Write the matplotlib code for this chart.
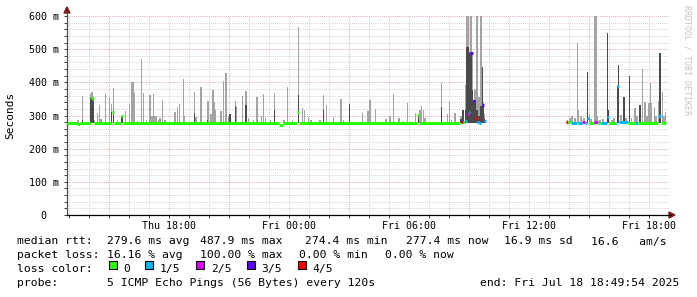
import numpy as np
import matplotlib
matplotlib.use("Agg")
import matplotlib.pyplot as plt
from matplotlib.collections import LineCollection
from matplotlib.patches import Rectangle, Polygon

# ---------------- data (time = hours since Thu 00:00, values in ms) -------------
smoke_t = [13.435, 13.65, 14.07, 14.135, 14.185, 14.235, 14.40, 14.52, 14.585, 14.80,
           15.00, 15.12, 15.20, 15.40, 15.635, 15.80, 16.00, 16.12, 16.185, 16.235,
           16.40, 16.60, 16.72, 16.85, 17.035, 17.135, 17.20, 17.285, 17.335, 17.45,
           17.535, 17.65, 17.785, 18.285, 18.40, 18.50, 18.70, 18.77,
           19.25, 19.335, 19.585, 19.91, 19.96, 20.085, 20.185, 20.25, 20.32, 20.585,
           20.72, 20.835, 20.95, 21.035, 21.31, 21.36, 21.65, 21.835, 21.95, 22.20,
           22.385, 22.60, 22.72, 22.80, 23.05, 23.25, 23.735, 23.92, 24.15, 24.45,
           24.65, 24.75, 24.95,
           25.085, 25.535, 25.70, 25.87, 26.20, 26.585, 26.70, 27.00, 27.65, 27.90,
           27.95, 28.035, 28.30, 28.835, 29.035, 29.20, 29.485, 29.65, 29.92, 30.32,
           30.45, 30.535, 30.60, 30.72,
           30.785, 31.62, 31.92, 32.00, 32.12, 32.285, 32.585, 32.685, 32.80, 32.87,
           32.92, 32.97, 33.02, 33.07, 33.12, 33.17, 33.235, 33.285, 33.385, 33.435,
           33.50, 33.585, 33.65, 33.70, 33.77,
           37.92, 38.035, 38.135, 38.285, 38.40, 38.45, 38.585, 38.735, 38.92, 39.00,
           39.085, 39.26, 39.31, 39.36, 39.41, 39.535, 39.685, 39.92, 39.97, 40.135,
           40.235, 40.41, 40.46, 40.585, 40.735, 40.835, 41.00, 41.12, 41.285, 41.385,
           41.535, 41.65, 41.785, 41.885, 41.985, 42.05, 42.12, 42.25, 42.335, 42.45,
           42.535, 42.65, 42.735, 42.82]
smoke_hi = [285, 359, 365, 372, 350, 286, 307, 332, 290, 365,
            355, 335, 382, 287, 300, 315, 335, 402, 402, 369,
            283, 470, 369, 287, 362, 298, 366, 298, 298, 286,
            292, 347, 287, 312, 326, 335, 410, 297,
            372, 295, 385, 345, 345, 305, 377, 342, 317, 314,
            405, 429, 297, 304, 345, 330, 359, 375, 291, 286,
            355, 298, 365, 291, 286, 369, 286, 385, 286, 566,
            322, 317, 296,
            286, 286, 362, 332, 294, 349, 287, 335, 307, 314,
            314, 347, 320, 289, 298, 365, 291, 284, 339, 309,
            301, 318, 329, 317,
            291, 397, 305, 345, 286, 307, 297, 318, 392, 603,
            603, 603, 490, 603, 603, 490, 347, 380, 603, 357,
            357, 603, 447, 340, 306,
            285, 291, 297, 291, 518, 318, 297, 291, 432, 306,
            290, 603, 603, 603, 300, 286, 290, 550, 318, 286,
            292, 389, 452, 301, 357, 292, 419, 291, 322, 300,
            332, 439, 342, 300, 339, 399, 339, 327, 300, 345,
            489, 372, 300, 311]
smoke_dark = [0, 286, 352, 352, 345, 0, 0, 0, 0, 0,
              0, 312, 312, 0, 297, 0, 0, 0, 0, 0,
              0, 0, 0, 0, 0, 0, 0, 0, 0, 0,
              0, 0, 0, 0, 0, 0, 0, 0,
              309, 0, 0, 286, 0, 0, 0, 0, 0, 0,
              0, 0, 0, 304, 327, 0, 0, 332, 0, 0,
              0, 0, 0, 0, 0, 318, 0, 0, 0, 362,
              0, 0, 0,
              0, 0, 317, 0, 0, 0, 0, 335, 0, 0,
              0, 0, 0, 0, 0, 0, 0, 0, 0, 0,
              296, 0, 0, 0,
              0, 325, 0, 0, 0, 0, 290, 317, 318, 508,
              508, 508, 490, 488, 488, 377, 347, 347, 317, 300,
              300, 330, 447, 330, 290,
              0, 0, 0, 0, 0, 0, 0, 0, 432, 0,
              0, 0, 0, 0, 0, 0, 0, 550, 318, 0,
              0, 389, 452, 0, 357, 0, 419, 0, 0, 0,
              332, 0, 0, 0, 0, 0, 0, 0, 0, 0,
              489, 0, 0, 0]

# median rtt steps: value holds from median_t[i] to median_t[i+1]
median_t = [12.885, 13.40, 13.55, 14.06, 14.21, 15.16, 15.26, 15.585, 15.685,
            23.49, 23.68, 24.41, 24.51, 30.41, 30.51,
            32.535, 32.61, 32.685, 32.785, 32.885, 32.985, 33.06, 33.185, 33.285,
            33.385, 33.485, 33.585, 33.66, 33.735, 33.835,
            37.86, 37.96, 38.085, 38.385, 38.435, 38.635, 38.785, 38.885, 38.985,
            39.235, 39.435, 39.585, 39.885, 39.985, 40.335, 40.385, 40.485, 40.935,
            41.285, 41.435, 42.435, 42.585, 42.835]
median_v = [278, 274, 278, 352, 278, 312, 278, 300, 278,
            272, 278, 312, 278, 301, 278,
            284, 280, 279, 283, 304, 311, 488, 345, 291,
            279, 277, 286, 333, 284, np.nan,
            279, 279, 278, 278, 278, 281, 278, 291, 278,
            280, 278, 278, 294, 278, 278, 389, 280, 278,
            278, 278, 298, 278, np.nan]
median_loss = [0, 0, 0, 0, 0, 0, 0, 0, 0,
               0, 0, 0, 0, 0, 0,
               3, 4, 0, 1, 2, 1, 3, 3, 4,
               1, 1, 4, 3, 1, 0,
               4, 0, 1, 0, 1, 2, 1, 1, 0,
               2, 0, 1, 1, 0, 1, 1, 1, 0,
               1, 0, 1, 0, 0]

loss_labels = ["0", "1/5", "2/5", "3/5", "4/5"]
loss_colors = ["#26ff00", "#00b8ff", "#dd00ff", "#5e00ff", "#ff0000"]

x_ticks = [18, 24, 30, 36, 42]
x_tick_labels = ["Thu 18:00", "Fri 00:00", "Fri 06:00", "Fri 12:00", "Fri 18:00"]
y_ticks = [0, 100, 200, 300, 400, 500, 600]
y_tick_labels = ["0  ", "100 m", "200 m", "300 m", "400 m", "500 m", "600 m"]

# ---------------- figure ----------------
W, H = 697, 297
fig = plt.figure(figsize=(W / 100, H / 100), dpi=100)
fig.patch.set_facecolor("white")

def fx(x):
    return x / W

def fy(y):
    return 1 - y / H

ax_l, ax_r, ax_t, ax_b = 67, 669, 16, 215
ax = fig.add_axes([fx(ax_l), fy(ax_b), (ax_r - ax_l) / W, (ax_b - ax_t) / H])
ax.set_facecolor("white")
ax.set_xlim(12.885, 12.885 + (ax_r - ax_l) / 20.0)
ax.set_ylim(0, 600)

mono = "DejaVu Sans Mono"

# grid
dot = (0, (1.0, 1.2))
for h in np.arange(13, 43, 1):
    major = (h % 6) == 3
    ax.axvline(h, color="#e4a8a8" if major else "#d0d0d0", lw=0.7, ls=dot, zorder=0)
for v in np.arange(20, 620, 20):
    major = (v % 100) == 0
    ax.axhline(v, color="#e4a8a8" if major else "#d0d0d0", lw=0.7, ls=dot, zorder=0)

# smoke
t = np.array(smoke_t)
hi = np.array(smoke_hi, dtype=float)
dk = np.array(smoke_dark, dtype=float)
base = 276.0
ax.bar(t, hi - base, bottom=base, width=0.055, color="#a4a4a4", linewidth=0, zorder=2)
m = dk > 0
ax.bar(t[m], dk[m] - base, bottom=base, width=0.055, color="#4a4a4a", linewidth=0, zorder=3)

# median line
segs, cols = [], []
for i in range(len(median_t) - 1):
    v = median_v[i]
    if np.isnan(v):
        continue
    segs.append([(median_t[i], v), (median_t[i + 1], v)])
    cols.append(loss_colors[median_loss[i]])
lc = LineCollection(segs, colors=cols, linewidths=2.2, capstyle="butt", zorder=4)
ax.add_collection(lc)

# axes styling
for s in ["top", "right"]:
    ax.spines[s].set_visible(False)
ax.spines["left"].set_color("#505050")
ax.spines["bottom"].set_color("#000000")
ax.spines["left"].set_linewidth(0.9)
ax.spines["bottom"].set_linewidth(0.9)
ax.set_xticks(x_ticks)
ax.set_xticklabels(x_tick_labels, fontfamily=mono, fontsize=7.2)
ax.set_yticks(y_ticks)
ax.set_yticklabels(y_tick_labels, fontfamily=mono, fontsize=7.2)
ax.set_xticks(np.arange(13, 43, 1), minor=True)
ax.set_yticks(np.arange(20, 620, 20), minor=True)
ax.tick_params(axis="both", which="both", direction="out", length=2, width=0.7,
               color="#404040")
ax.tick_params(axis="y", which="major", pad=3.5)
ax.tick_params(axis="x", which="major", pad=2.6)

# arrows
ar = "#7a1a1a"
fig.patches.append(Polygon([[fx(64), fy(13)], [fx(70), fy(13)], [fx(67), fy(7)]],
                           closed=True, color=ar, transform=fig.transFigure, figure=fig))
fig.patches.append(Polygon([[fx(669), fy(212)], [fx(669), fy(218)], [fx(675), fy(215)]],
                           closed=True, color=ar, transform=fig.transFigure, figure=fig))
fig.add_artist(plt.Line2D([fx(67), fx(67)], [fy(16), fy(12)], color="#505050", lw=0.9,
                          transform=fig.transFigure))
fig.add_artist(plt.Line2D([fx(669), fx(671)], [fy(215), fy(215)], color="#000000", lw=0.9,
                          transform=fig.transFigure))

# y label and watermark
fig.text(fx(10), fy(115), "Seconds", rotation=90, ha="center", va="center",
         fontfamily=mono, fontsize=8.0)
fig.text(fx(687), fy(60), "RRDTOOL / TOBI OETIKER", rotation=270, ha="center",
         va="center", fontfamily=mono, fontsize=6.0, color="#c4c4c4")

# legend text
fs = 8.2
def t_(x, y, s, ha="left"):
    fig.text(fx(x), fy(y), s, ha=ha, va="center", fontfamily=mono, fontsize=fs)

y1, y2, y3, y4 = 241.5, 255.2, 269.2, 283.0
t_(16.7, y1, "median rtt:")
t_(107.3, y1, "279.6 ms avg")
t_(200.5, y1, "487.9 ms max")
t_(305.3, y1, "274.4 ms min")
t_(406.0, y1, "277.4 ms now")
t_(504.0, y1, "16.9 ms sd")
t_(591.0, y1, "16.6   am/s")

t_(16.7, y2, "packet loss:")
t_(107.3, y2, "16.16 % avg")
t_(200.0, y2, "100.00 % max")
t_(298.6, y2, "0.00 % min")
t_(385.0, y2, "0.00 % now")

t_(16.7, y3, "loss color:")
box_x = [108.5, 145.2, 196.2, 247.2, 297.5]
for bx, lab, col in zip(box_x, loss_labels, loss_colors):
    fig.patches.append(Rectangle((fx(bx), fy(268.5)), 8 / W, 8 / H, facecolor=col,
                                 edgecolor="black", linewidth=0.8,
                                 transform=fig.transFigure, figure=fig))
    t_(bx + 14.5, y3, lab)

t_(16.7, y4, "probe:")
t_(107.3, y4, "5 ICMP Echo Pings (56 Bytes) every 120s")
t_(679.0, y4, "end: Fri Jul 18 18:49:54 2025", ha="right")

fig.savefig("out.png", dpi=100, facecolor="white")
